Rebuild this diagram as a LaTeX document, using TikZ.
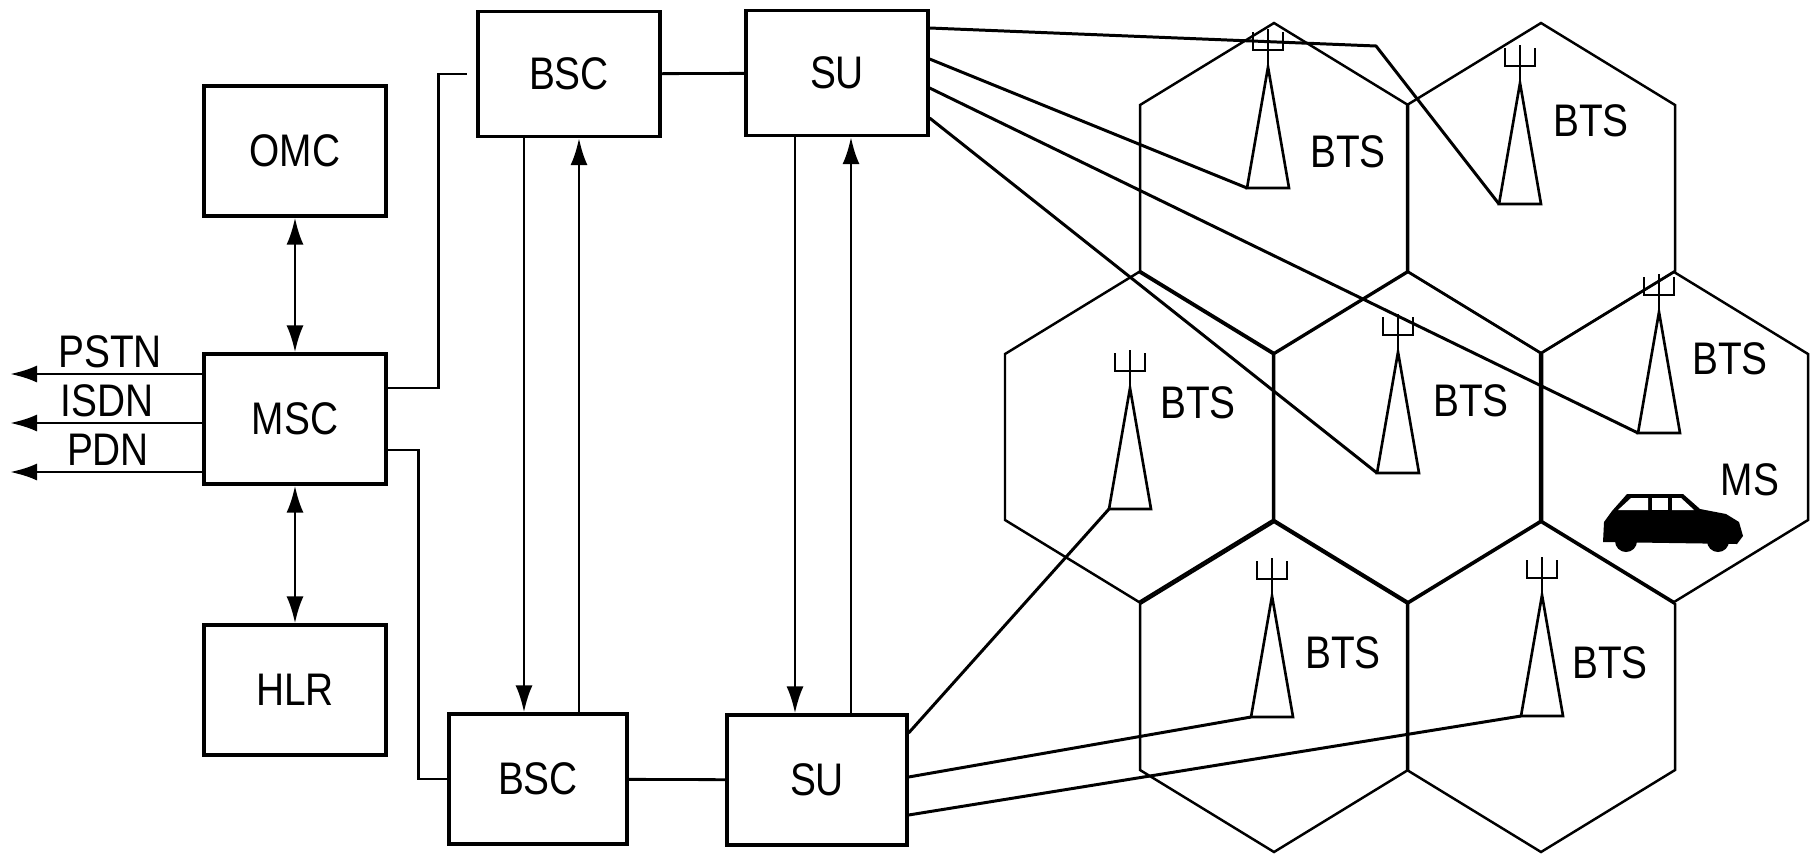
\documentclass[tikz,border=0pt]{standalone}
\usepackage{fontspec}
\setmainfont{Liberation Sans}[FakeStretch=0.85]
\usepackage{tikz}
\usetikzlibrary{arrows.meta}

\tikzset{
    tower/.pic={ % antenna mast with fork on top
        \draw[mast] (-21,0) -- (0,-121) -- (21,0) -- cycle;
        \draw[mast] (0,-121) -- (0,-159);
        \draw[mast] (-15,-156) |- (15,-138) -- (15,-156);
        \coordinate (-base) at (-21,0);
    }
}

\begin{document}
\begin{tikzpicture}[
            x=0.1mm, y=-0.1mm, % one unit = one pixel, y downwards
            unit/.style={draw, line width=0.9pt, minimum width=18.2mm, minimum height=13mm, inner sep=0pt, font=\fontsize{13}{15}\selectfont}, % boxes
            lbl/.style={inner sep=0pt, font=\fontsize{13}{15}\selectfont}, % plain texts
            head/.style={Latex[length=2.7mm, width=1.7mm]},
            wire/.style={line width=0.8pt},
            arr/.style={line width=0.8pt, -{Latex[length=2.7mm, width=1.7mm]}},
            dbl/.style={line width=0.8pt, {Latex[length=2.7mm, width=1.7mm]}-{Latex[length=2.7mm, width=1.7mm]}},
            cell/.style={line width=0.7pt}, % hexagon cells
            mast/.style={line width=0.75pt},
            link/.style={line width=0.85pt}
            ]
        \useasboundingbox (0,0) rectangle (1812,859);

            % Switching side
            \node[unit] (omc) at (295,151) {OMC};
            \node[unit] (msc) at (295,419) {MSC};
            \node[unit] (hlr) at (295,690) {HLR};
            \node[unit, minimum height=12.5mm] (bsc1) at (569,74) {BSC};
            \node[unit, minimum height=12.5mm] (su1) at (837,73) {SU};
            \node[unit, minimum width=17.8mm] (bsc2) at (538,779) {BSC};
            \node[unit, minimum width=18mm] (su2) at (817,780) {SU};

            \draw[dbl] (omc.south) -- (msc.north);
            \draw[dbl] (msc.south) -- (hlr.north);

            % Outside networks
            \node[lbl] (pstn) at (110,352) {PSTN};
            \node[lbl] (isdn) at (107,401) {ISDN};
            \node[lbl] (pdn) at (108,450) {PDN};
            \coordinate (pstnend) at (10,374);
            \coordinate (isdnend) at (10,423);
            \coordinate (pdnend) at (10,472);
            \draw[arr] (msc.west |- pstnend) -- (pstnend);
            \draw[arr] (msc.west |- isdnend) -- (isdnend);
            \draw[arr] (msc.west |- pdnend) -- (pdnend);

            \draw[wire, shorten >=0.9mm] (msc.east |- 0,388) -- ++(51,0) |- (bsc1.west);
            \draw[wire] (msc.east |- 0,450) -- ++(31,0) |- (bsc2.west);
            \draw[wire] (bsc1) -- (su1);
            \draw[wire] (bsc2) -- (su2);

            \draw[arr] (bsc1.south -| 524,0) -- (bsc2.north -| 524,0);
            \draw[arr] (bsc2.north -| 579,0) -- (bsc1.south -| 579,0);
            \draw[arr] (su1.south -| 795,0) -- (su2.north -| 795,0);
            \draw[arr] (su2.north -| 851,0) -- (su1.south -| 851,0);

            % Cells
            \foreach \cx/\cy in {1274/188, 1541/188, 1139/437, 1408/437, 1674/437, 1274/687, 1541/687}
                \draw[cell] (\cx,\cy) +(0,-165) -- +(134,-83) -- +(134,83) -- +(0,165) -- +(-134,83) -- +(-134,-83) -- cycle;

            % Base stations
            \pic (bts1) at (1268,188) {tower};
            \pic (bts2) at (1520,204) {tower};
            \pic (bts3) at (1659,433) {tower};
            \pic (bts4) at (1130,509) {tower};
            \pic (bts5) at (1398,473) {tower};
            \pic (bts6) at (1272,717) {tower};
            \pic (bts7) at (1542,716) {tower};
            \node[lbl] (btsa) at (1348,152) {BTS};
            \node[lbl] (btsb) at (1591,121) {BTS};
            \node[lbl] (btsc) at (1730,359) {BTS};
            \node[lbl] (btsd) at (1198,403) {BTS};
            \node[lbl] (btse) at (1471,401) {BTS};
            \node[lbl] (btsf) at (1343,653) {BTS};
            \node[lbl] (btsg) at (1610,663) {BTS};

            \coordinate (bend) at (1376,46);
            \draw[link] (su1.east |- 0,28) -- (bend) -- (bts2-base);
            \draw[link] (su1.east |- 0,59) -- (bts1-base);
            \draw[link] (su1.east |- 0,88) -- (bts3-base);
            \draw[link] (su1.east |- 0,118) -- (bts5-base);
            \draw[link] (su2.east |- 0,733) -- (bts4-base);
            \draw[link] (su2.east |- 0,777) -- (bts6-base);
            \draw[link] (su2.east |- 0,815) -- (bts7-base);

            % Mobile station
            \node[lbl] (ms) at (1750,480) {MS};
            \fill (1603,542) -- (1604,522) -- (1612,511) -- (1627,494) -- (1683,494) -- (1700,509) -- (1726,514) -- (1739,522) -- (1743,536) -- (1737,544) -- cycle;
            \fill (1626,541) circle[radius=1.1mm];
            \fill (1718,541) circle[radius=1.1mm];
            \fill[white] (1618,510) -- (1631,498) -- (1648,498) -- (1648,510) -- cycle;
            \fill[white] (1652,498) -- (1668,498) -- (1668,510) -- (1652,510) -- cycle;
            \fill[white] (1672,498) -- (1681,498) -- (1694,510) -- (1672,510) -- cycle;

            \end{tikzpicture}
\end{document}
